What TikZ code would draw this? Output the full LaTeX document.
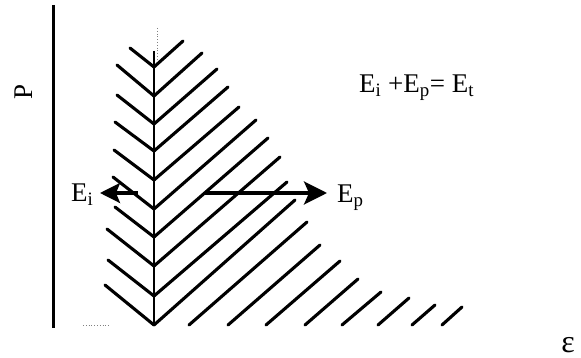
\documentclass[tikz,border=0pt]{standalone}
\usepackage{fontspec}
\setmainfont{Liberation Serif}
\usetikzlibrary{arrows.meta}
\begin{document}
\begin{tikzpicture}[x=1pt,y=-1pt,
  hatch/.style={line width=3.1pt, line cap=round},
  axisline/.style={line width=3pt},
  spineline/.style={line width=2.7pt},
  lbl/.style={font=\fontsize{27}{30}\selectfont, inner sep=0pt},
  bigarrow/.style={line width=3.2pt, -{Stealth[length=23pt,width=23pt,inset=5pt]}},
  smallarrow/.style={line width=3.2pt, -{Stealth[length=20pt,width=20pt,inset=4pt]}},
  faint/.style={gray, dotted, line width=0.8pt}]
\useasboundingbox (0,0) rectangle (581,358);
% vertical axis
\coordinate (axtop) at (53,5);
\coordinate (axbot) at (53,328);
\draw[axisline] (axtop) -- (axbot);
% spine
\coordinate (sptop) at (154,51);
\coordinate (spbot) at (154,325);
\draw[spineline] (sptop) -- (spbot);
% faint artefacts
\draw[faint] (157,28) -- (157,60);
\draw[faint] (83,325) -- (110,325);
% left branches
\foreach \y/\ex/\ey in {67/130/48, 96/117/65, 124/117/95, 151/115/122, 180/114/150,
  209/113/177, 237/115/207, 266/107/229, 296/108/260, 325/105/285}
  \draw[hatch] (154,\y) -- (\ex,\ey);
% right branches from spine
\foreach \y/\ex/\ey in {67/183/41, 96/202/53, 124/217/69, 151/228/87, 180/239/107,
  209/256/120, 237/268/138, 266/280/157, 296/287/182, 325/295/200}
  \draw[hatch] (154,\y) -- (\ex,\ey);
% right branches from ground
\foreach \sx/\ex/\ey in {189/307/222, 228/320/245, 266/340/261, 305/358/279,
  342/381/292, 378/409/298, 412/435/305, 442/462/307}
  \draw[hatch] (\sx,325) -- (\ex,\ey);
% labels
\node[lbl, anchor=base west] (Ei) at (71,202) {E\textsubscript{i}};
\node[lbl, anchor=base west] (Ep) at (337,203) {E\textsubscript{p}};
\node[lbl, anchor=base west] (eq) at (359,93) {E\textsubscript{i} +E\textsubscript{p}= E\textsubscript{t}};
\node[lbl, rotate=90] (P) at (24,92) {P};
\node[font=\fontsize{32}{36}\selectfont, inner sep=0pt] (eps) at (568,345) {ε};
% arrows
\coordinate (ls) at (138,193);
\coordinate (lt) at (100,193);
\draw[smallarrow] (ls) -- (lt);
\coordinate (rs) at (205,193);
\coordinate (rt) at (327,193);
\draw[bigarrow] (rs) -- (rt);
\end{tikzpicture}
\end{document}
